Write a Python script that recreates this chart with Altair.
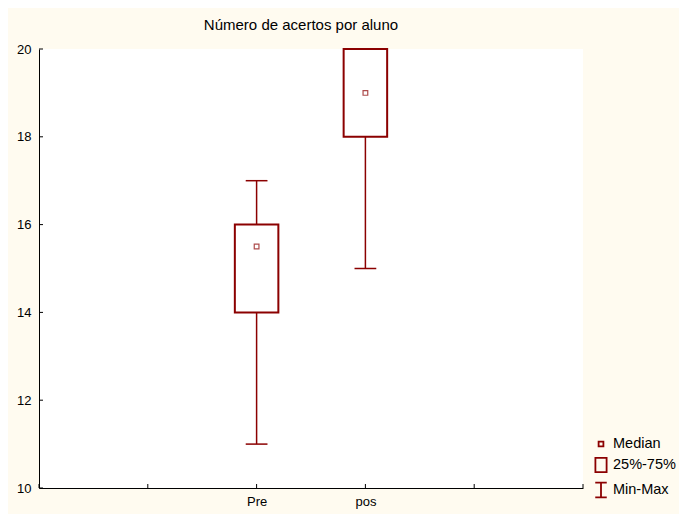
import altair as alt
import pandas as pd

# ---- data ----
groups = ["Pre", "pos"]
positions = [2, 3]
mins = [11, 15]
q1s = [14, 18]
medians = [15.5, 19]
q3s = [16, 20]
maxs = [17, 20]
y_ticks = [10, 12, 14, 16, 18, 20]
x_ticks = [0, 1, 2, 3, 4, 5]
legend_items = ["Median", "25%-75%", "Min-Max"]

# ---- style ----
W, H = 544, 439
RED = "#8B0000"
FONT = "Liberation Sans"
BOX_HALF = 0.2
CAP_HALF = 0.1
TICK_LEN = 4

df = pd.DataFrame({
    "group": groups, "pos": positions, "min": mins, "q1": q1s,
    "median": medians, "q3": q3s, "max": maxs,
})

xscale = alt.Scale(domain=[0, 5], nice=False, zero=False)
yscale = alt.Scale(domain=[10, 20], nice=False, zero=False)

label_map = " : ".join(f"datum.value == {p} ? '{g}'" for p, g in zip(positions, groups)) + " : ''"
xaxis = alt.Axis(values=positions, labelExpr=label_map, title=None, ticks=False,
                 grid=False, labelPadding=7, domainColor="black")
yaxis = alt.Axis(values=y_ticks, title=None, ticks=False, grid=False,
                 labelPadding=8, domainColor="black")

base = alt.Chart(df).transform_calculate(
    xl=f"datum.pos - {BOX_HALF}", xr=f"datum.pos + {BOX_HALF}",
    cl=f"datum.pos - {CAP_HALF}", cr=f"datum.pos + {CAP_HALF}",
)

boxes = base.mark_rect(fill="white", stroke=RED, strokeWidth=2).encode(
    x=alt.X("xl:Q", scale=xscale, axis=xaxis),
    x2="xr:Q",
    y=alt.Y("q1:Q", scale=yscale, axis=yaxis),
    y2="q3:Q",
)
w_low = base.mark_rule(color=RED, strokeWidth=1.5).encode(x="pos:Q", y="min:Q", y2="q1:Q")
w_high = base.mark_rule(color=RED, strokeWidth=1.5).encode(x="pos:Q", y="q3:Q", y2="max:Q")
cap_low = base.mark_rule(color=RED, strokeWidth=1.5).encode(x="cl:Q", x2="cr:Q", y="min:Q")
cap_high = base.mark_rule(color=RED, strokeWidth=1.5).encode(x="cl:Q", x2="cr:Q", y="max:Q")
med = base.mark_point(shape="square", filled=False, size=22, color=RED, strokeWidth=1.2).encode(
    x="pos:Q", y="median:Q")

xt = alt.Chart(pd.DataFrame({"t": x_ticks})).mark_rule(color="black", strokeWidth=1).encode(
    x="t:Q", y=alt.value(H), y2=alt.value(H - TICK_LEN))
yt = alt.Chart(pd.DataFrame({"t": y_ticks})).mark_rule(color="black", strokeWidth=1).encode(
    y="t:Q", x=alt.value(0), x2=alt.value(TICK_LEN))

paths = [
    "M-0.3,-0.3H0.3V0.3H-0.3Z",
    "M-0.7,-0.9H0.7V0.9H-0.7Z",
    "M-0.72,-0.92H0.72M0,-0.92V0.92M-0.72,0.92H0.72",
]
leg = alt.Chart(pd.DataFrame({"item": legend_items})).mark_point(opacity=0, size=256).encode(
    x=alt.value(0), y=alt.value(0),
    shape=alt.Shape("item:N", scale=alt.Scale(domain=legend_items, range=paths),
                    sort=legend_items,
                    legend=alt.Legend(title=None, orient="none", legendX=553, legendY=386,
                                      symbolSize=256, symbolStrokeColor=RED,
                                      symbolFillColor="transparent", symbolStrokeWidth=1.8,
                                      symbolOpacity=1, labelFont=FONT, labelFontSize=14.5,
                                      labelColor="black", labelOffset=3, rowPadding=3,
                                      padding=0)),
)

chart = alt.layer(boxes, w_low, w_high, cap_low, cap_high, med, xt, yt, leg).properties(
    width=W, height=H,
    autosize=alt.AutoSizeParams(type="none"),
    padding={"left": 31, "top": 41, "right": 96, "bottom": 26},
    background="#FFFBF0",
    title=alt.Title("Número de acertos por aluno", font=FONT, fontSize=15,
                    fontWeight="normal", color="black", anchor="middle", dx=-10, offset=9),
).configure_view(stroke=None, fill="white").configure_axis(
    labelFont=FONT, labelFontSize=13, labelColor="black", domainWidth=1,
)

chart.save("out.html", embed_options={"renderer": "svg", "actions": False})
